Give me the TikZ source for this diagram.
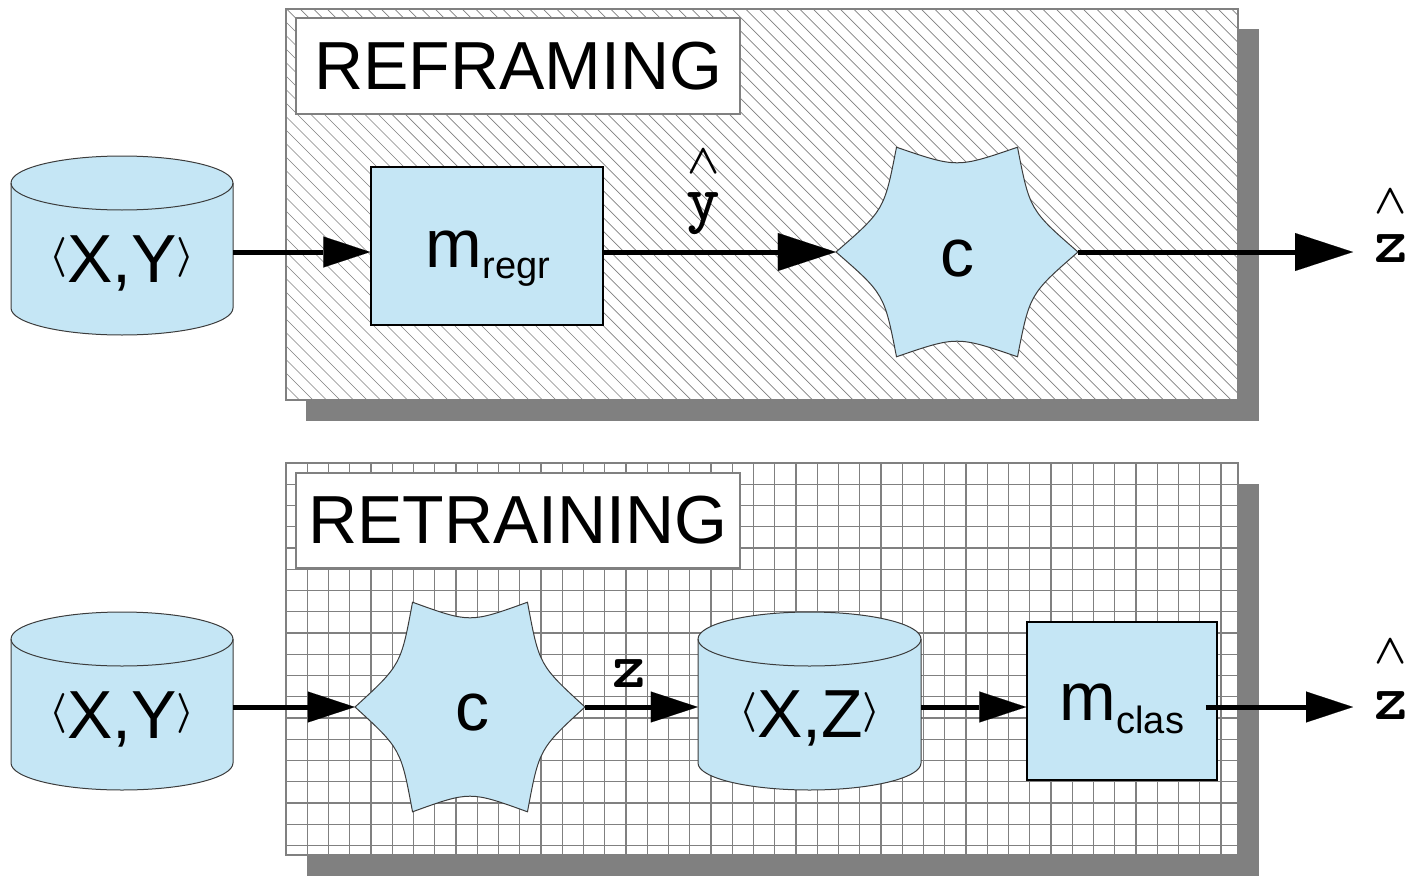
\documentclass[tikz,border=0pt]{standalone}
\usepackage{fontspec}
\usepackage{graphicx}
\setmainfont{Liberation Sans}
\usetikzlibrary{arrows.meta,calc}
\definecolor{lblue}{RGB}{197,230,245}
\definecolor{shadowgray}{RGB}{128,128,128}
\definecolor{linegray}{RGB}{128,128,128}
\definecolor{outl}{RGB}{60,60,60}
\newcommand{\fs}[1]{\fontsize{#1}{#1}\selectfont}
\newcommand{\langbr}{\raisebox{15pt}{\scalebox{4}{\fs{10}\boldmath$\langle$}}}
\newcommand{\rangbr}{\raisebox{15pt}{\scalebox{4}{\fs{10}\boldmath$\rangle$}}}
\newcommand{\hatmark}{\scalebox{4.2}{\fs{10}\boldmath$\wedge$}}
\begin{document}
\begin{tikzpicture}[x=1pt,y=-1pt,
  panel/.style={draw=linegray, line width=1.2pt},
  hatchline/.style={draw=linegray, line width=0.7pt},
  gridline/.style={draw=linegray, line width=1.1pt},
  titlebox/.style={draw=linegray, line width=1.2pt, fill=white, inner sep=0, font=\fs{68}},
  box/.style={draw=black, line width=1.5pt, fill=lblue, inner sep=0},
  anchorbox/.style={inner sep=0, draw=none},
  cylsty/.style={draw=outl, line width=1pt, fill=lblue},
  cylfront/.style={draw=outl, line width=1pt},
  starsty/.style={draw=outl, line width=1pt, fill=lblue},
  lbl/.style={font=\fs{68}, inner sep=0, anchor=base},
  mono/.style={font=\ttfamily\bfseries\fs{64}, inner sep=0, anchor=base},
  caret/.style={inner sep=0, anchor=north},
  conn/.style={line width=5pt},
  bigarrow/.style={conn, -{Triangle[length=58pt,width=38pt,line width=0.1pt]}},
  smallarrow/.style={conn, -{Triangle[length=47pt,width=31pt,line width=0.1pt]}},
]
\useasboundingbox (0,0) rectangle (1418,883);

% ---------- top panel (REFRAMING)
\fill[shadowgray] (306,29) rectangle (1259,421);
\fill[white] (286,9) rectangle (1238,400);
\begin{scope}
  \clip (286,9) rectangle (1238,400);
  \foreach \i in {0,...,100} \draw[hatchline] ({286-391+\i*13.5},9) -- ++(391,391);
\end{scope}
\draw[panel] (286,9) rectangle (1238,400);
\node[titlebox, minimum width=444pt, minimum height=96pt] (t1) at (518,66) {REFRAMING};

% ---------- bottom panel (RETRAINING)
\fill[shadowgray] (307,484) rectangle (1259,876);
\fill[white] (286,463) rectangle (1238,855);
\foreach \k in {1,...,44} \draw[gridline] ({286+\k*21.25},463) -- ({286+\k*21.25},855);
\foreach \k in {1,...,18} \draw[gridline] (286,{463+\k*21.25}) -- (1238,{463+\k*21.25});
\draw[panel] (286,463) rectangle (1238,855);
\node[titlebox, minimum width=444pt, minimum height=95pt] (t2) at (518,520.5) {RETRAINING};

% ---------- cylinders
\draw[cylsty] (11,183) -- (11,308) arc[start angle=180, end angle=0, x radius=111, y radius=27]
  -- (233,183) arc[start angle=0, end angle=-180, x radius=111, y radius=27] -- cycle;
\draw[cylfront] (11,183) arc[start angle=180, end angle=0, x radius=111, y radius=27];
\node[anchorbox, minimum width=222pt, minimum height=180pt] (cylA) at (122,252) {};
\node[lbl] (cylAt) at (122,282) {\langbr X,Y\rangbr};

\draw[cylsty] (11,639) -- (11,763) arc[start angle=180, end angle=0, x radius=111, y radius=27]
  -- (233,639) arc[start angle=0, end angle=-180, x radius=111, y radius=27] -- cycle;
\draw[cylfront] (11,639) arc[start angle=180, end angle=0, x radius=111, y radius=27];
\node[anchorbox, minimum width=222pt, minimum height=180pt] (cylB) at (122,707) {};
\node[lbl] (cylBt) at (122,738) {\langbr X,Y\rangbr};

\draw[cylsty] (698,639) -- (698,763) arc[start angle=180, end angle=0, x radius=111.5, y radius=27]
  -- (921,639) arc[start angle=0, end angle=-180, x radius=111.5, y radius=27] -- cycle;
\draw[cylfront] (698,639) arc[start angle=180, end angle=0, x radius=111.5, y radius=27];
\node[anchorbox, minimum width=223pt, minimum height=180pt] (cylC) at (809.5,707) {};
\node[lbl] (cylCt) at (810,737) {\langbr X,Z\rangbr};

% ---------- model boxes
\node[box, minimum width=232pt, minimum height=158pt] (mregr) at (487,246) {};
\node[lbl] (mregrt) at (488,267) {m\raisebox{-11pt}{\fs{38}regr}};
\node[box, minimum width=190pt, minimum height=158pt] (mclas) at (1122,701) {};
\node[lbl] (mclast) at (1122,720) {m\raisebox{-13pt}{\fs{38}clas}};

% ---------- stars
\begin{scope}[shift={(957,252)}]
  \draw[starsty] (0:121) .. controls (30:84) .. (60:121) .. controls (90:84) .. (120:121)
    .. controls (150:84) .. (180:121) .. controls (210:84) .. (240:121)
    .. controls (270:84) .. (300:121) .. controls (330:84) .. (360:121) -- cycle;
\end{scope}
\node[anchorbox, minimum width=242pt, minimum height=210pt] (c1) at (957,252) {};
\node[lbl] (c1t) at (957,276) {c};

\begin{scope}[shift={(470,707)}, xscale=0.95]
  \draw[starsty] (0:121) .. controls (30:84) .. (60:121) .. controls (90:84) .. (120:121)
    .. controls (150:84) .. (180:121) .. controls (210:84) .. (240:121)
    .. controls (270:84) .. (300:121) .. controls (330:84) .. (360:121) -- cycle;
\end{scope}
\node[anchorbox, minimum width=230pt, minimum height=210pt] (c2) at (470,707) {};
\node[lbl] (c2t) at (472,730) {c};

% ---------- connectors
\coordinate (zend1) at (1353,252);
\coordinate (zend2) at (1353,707);
\draw[smallarrow] (cylA.east) -- (cylA.east -| mregr.west);
\draw[bigarrow] (c1.west -| mregr.east) -- (c1.west);
\draw[bigarrow] (c1.east) -- (zend1);
\draw[smallarrow] (cylB.east) -- (c2.west);
\draw[smallarrow] (c2.east) -- (cylC.west);
\draw[smallarrow] (cylC.east) -- (cylC.east -| mclas.west);
\draw[smallarrow] ($(mclas.east |- cylC.east)+(-12,0)$) -- (zend2);

% ---------- labels
\node[caret] (yhatc) at (704,150) {\hatmark};
\node[mono] (yhat) at (703,220) {y};
\node[caret] (zhat1c) at (1391,190) {\hatmark};
\node[mono] (zhat1) at (1391,262) {z};
\node[mono] (zlab) at (629.5,687) {z};
\node[caret] (zhat2c) at (1391,640) {\hatmark};
\node[mono] (zhat2) at (1391,719) {z};
\end{tikzpicture}
\end{document}
